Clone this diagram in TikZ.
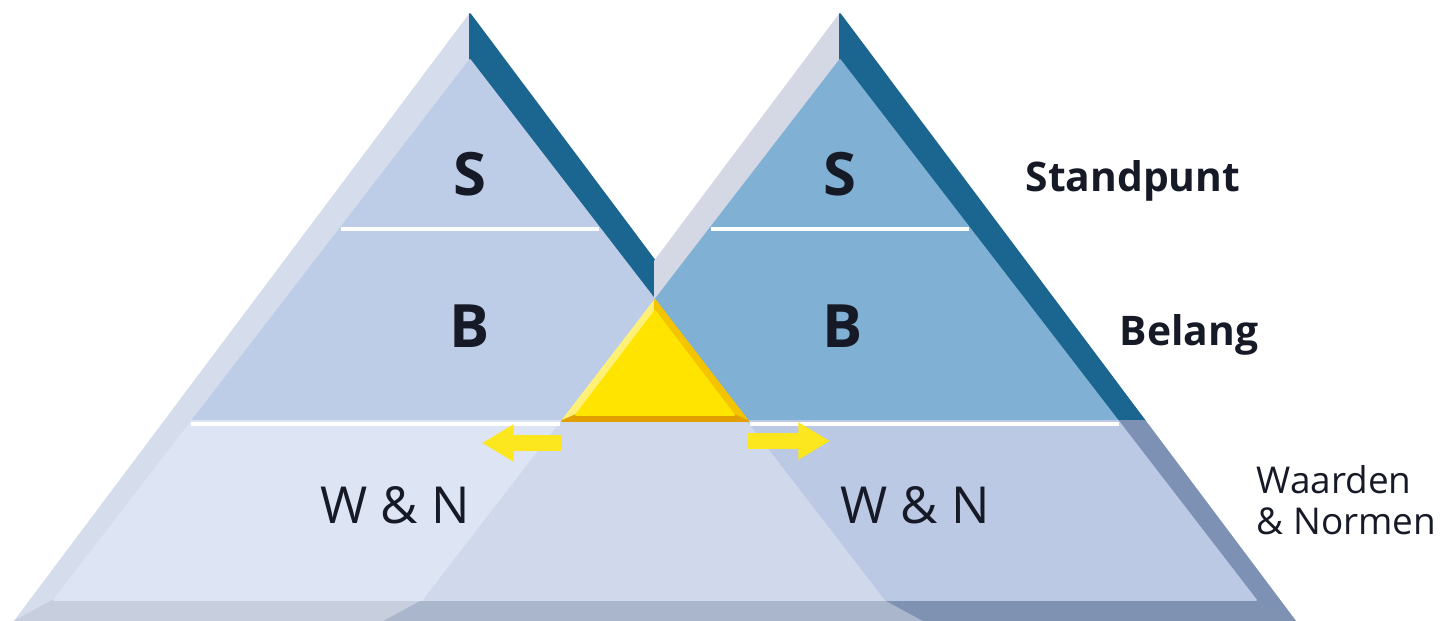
\documentclass[tikz,border=0pt]{standalone}
\usepackage{fontspec}
\setsansfont{Open Sans}
\definecolor{PyrDark}{RGB}{27,102,144}
\definecolor{PyrDarkLow}{RGB}{124,145,180}
\definecolor{LeftEdge}{RGB}{213,220,236}
\definecolor{RightEdge}{RGB}{211,216,228}
\definecolor{LeftFace}{RGB}{189,205,231}
\definecolor{RightFace}{RGB}{128,176,211}
\definecolor{WNLeft}{RGB}{221,228,244}
\definecolor{WNMid}{RGB}{208,216,236}
\definecolor{WNRight}{RGB}{187,201,229}
\definecolor{BaseLeft}{RGB}{199,206,221}
\definecolor{BaseMid}{RGB}{170,182,204}
\definecolor{BaseRight}{RGB}{127,146,178}
\definecolor{CoreYellow}{RGB}{255,228,0}
\definecolor{YellowLight}{RGB}{255,241,120}
\definecolor{YellowShade}{RGB}{244,196,0}
\definecolor{YellowBase}{RGB}{226,160,0}
\definecolor{ArrowYellow}{RGB}{252,230,30}
\definecolor{Ink}{RGB}{22,26,38}
\usetikzlibrary{arrows.meta}

\begin{document}
\begin{tikzpicture}[x=0.01cm,y=-0.01cm,
    pane/.style={fill=#1,draw=#1,line width=0.5pt,line join=round},
    sepline/.style={draw=white,line width=1.4pt},
    letter/.style={font=\sffamily\bfseries\fontsize{17}{20}\selectfont,text=Ink},
    wn/.style={font=\sffamily\fontsize{14.5}{17}\selectfont,text=Ink},
    lbl/.style={font=\sffamily\bfseries\fontsize{11.6}{14}\selectfont,text=Ink,anchor=base west,inner sep=0pt},
    push/.style={-{Triangle[width=10pt,length=9pt]},ArrowYellow,line width=4.8pt}]
    \useasboundingbox (0,0) rectangle (1444,621);

    % bevel edges and base bands
    \fill[pane=LeftEdge]  (470,14) -- (15,621) -- (54,600) -- (470,60) -- cycle;
    \fill[pane=PyrDark]   (470,14) -- (655,261) -- (655,300) -- (470,60) -- cycle;
    \fill[pane=RightEdge] (840,14) -- (655,261) -- (655,300) -- (840,60) -- cycle;
    \fill[pane=PyrDark]   (840,14) -- (1145,421) -- (1118,421) -- (840,60) -- cycle;
    \fill[pane=PyrDarkLow] (1118,421) -- (1145,421) -- (1295,621) -- (1256,600) -- cycle;
    \fill[pane=BaseLeft]  (15,621) -- (54,600) -- (424,600) -- (385,621) -- cycle;
    \fill[pane=BaseMid]   (385,621) -- (424,600) -- (886,600) -- (925,621) -- cycle;
    \fill[pane=BaseRight] (925,621) -- (886,600) -- (1256,600) -- (1295,621) -- cycle;

    % front faces, top two layers
    \fill[pane=LeftFace]  (470,60) -- (655,300) -- (562,421) -- (192,421) -- cycle;
    \fill[pane=RightFace] (840,60) -- (1118,421) -- (748,421) -- (655,300) -- cycle;

    % bottom layer
    \fill[pane=WNLeft]  (192,421) -- (562,421) -- (424,600) -- (54,600) -- cycle;
    \fill[pane=WNMid]   (562,421) -- (748,421) -- (886,600) -- (424,600) -- cycle;
    \fill[pane=WNRight] (748,421) -- (1118,421) -- (1256,600) -- (886,600) -- cycle;

    % yellow overlap
    \fill[pane=YellowLight] (655,300) -- (562,421) -- (576,415) -- (655,311) -- cycle;
    \fill[pane=YellowShade] (655,300) -- (655,311) -- (734,415) -- (748,421) -- cycle;
    \fill[pane=YellowBase]  (562,421) -- (748,421) -- (734,415) -- (576,415) -- cycle;
    \fill[pane=CoreYellow]  (655,311) -- (576,415) -- (734,415) -- cycle;

    % layer lines
    \draw[sepline] (341,229) -- (599,229);
    \draw[sepline] (711,229) -- (969,229);
    \draw[sepline] (191,424) -- (560,424);
    \draw[sepline] (750,424) -- (1119,424);

    % arrows
    \coordinate (lfrom) at (562,443);
    \coordinate (lto)   at (482,443);
    \coordinate (rfrom) at (748,441);
    \coordinate (rto)   at (830,441);
    \draw[push] (lfrom) -- (lto);
    \draw[push] (rfrom) -- (rto);

    % letters
    \node[letter] (ls) at (470,174) {S};
    \node[letter] (lb) at (470,326) {B};
    \node[letter] (rs) at (840,174) {S};
    \node[letter] (rb) at (843,326) {B};
    \node[wn] (lwn) at (395,505) {W \& N};
    \node[wn] (rwn) at (915,505) {W \& N};

    % labels
    \node[lbl] (standpunt) at (1025,192) {Standpunt};
    \node[lbl] (belang) at (1119,345) {Belang};
    \node[font=\sffamily\fontsize{10.5}{11.7}\selectfont,text=Ink,align=left,anchor=west,inner sep=0pt]
         (waarden) at (1256,500) {Waarden\\\& Normen};
\end{tikzpicture}
\end{document}
